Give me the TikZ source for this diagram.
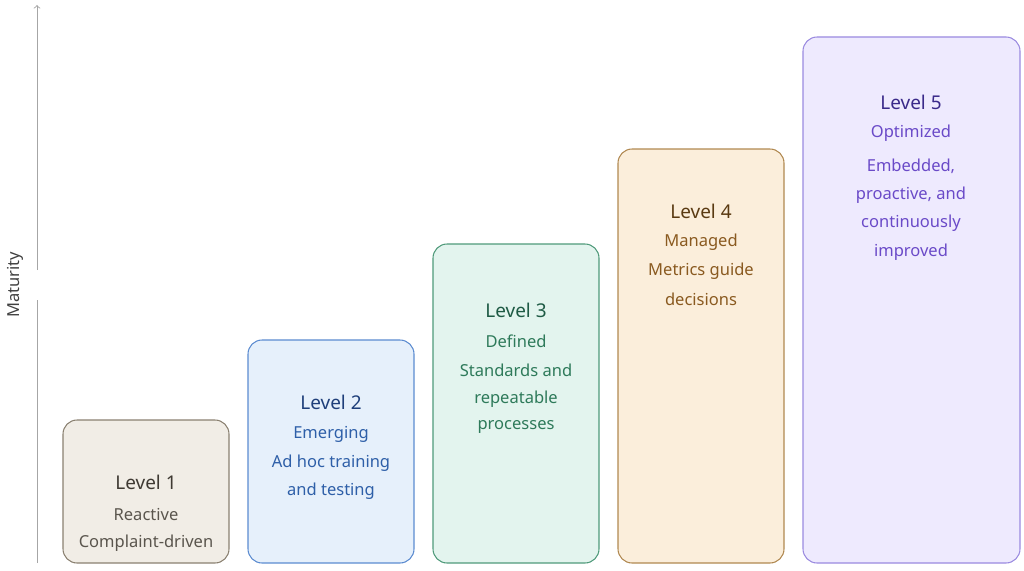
\documentclass[tikz,border=0pt]{standalone}
\usepackage{fontspec}
\setmainfont{Noto Sans}
\begin{document}
\begin{tikzpicture}[x=0.02cm,y=-0.02cm,
 box/.style={rounded corners=8pt,line width=0.6pt},
 ttl/.style={font=\fontsize{10.8pt}{12pt}\selectfont\bfseries,anchor=center},
 txt/.style={font=\fontsize{9.4pt}{11pt}\selectfont,anchor=center}]
\useasboundingbox (0,0) rectangle (1024,571);
\definecolor{fa}{HTML}{F1EDE6}\definecolor{ba}{HTML}{8A8070}\definecolor{ta}{HTML}{3F3A33}\definecolor{sa}{HTML}{5A554D}
\definecolor{fb}{HTML}{E6F0FB}\definecolor{bb}{HTML}{5B8BD0}\definecolor{tb}{HTML}{1F3F7A}\definecolor{sb}{HTML}{2E5FA8}
\definecolor{fc}{HTML}{E3F4EE}\definecolor{bc}{HTML}{4F9A7A}\definecolor{tc}{HTML}{1E5A44}\definecolor{sc}{HTML}{2E7A5A}
\definecolor{fd}{HTML}{FBEEDB}\definecolor{bd}{HTML}{B08850}\definecolor{td}{HTML}{5A3A12}\definecolor{sd}{HTML}{8A5A20}
\definecolor{fe}{HTML}{EEEAFE}\definecolor{be}{HTML}{9A8AE0}\definecolor{te}{HTML}{3A2A8A}\definecolor{se}{HTML}{6A4AC8}
\coordinate (a0) at (37,563); \coordinate (a1) at (37,270); \coordinate (a2) at (37,300); \coordinate (a3) at (37,5);
\draw[gray!70,line width=0.5pt] (a0) -- (a2);
\draw[gray!70,line width=0.5pt,->] (a1) -- (a3);
\node[txt,rotate=90,text=black!75] (mat) at (15,285) {Maturity};
\draw[box,fill=fa,draw=ba] (63,420) rectangle (229,563);
\draw[box,fill=fb,draw=bb] (248,340) rectangle (414,563);
\draw[box,fill=fc,draw=bc] (433,244) rectangle (599,563);
\draw[box,fill=fd,draw=bd] (618,149) rectangle (784,563);
\draw[box,fill=fe,draw=be] (803,37) rectangle (1020,563);
\node[ttl,text=ta] (t1) at (146,482) {Level 1};
\node[txt,text=sa] at (146,514) {Reactive};
\node[txt,text=sa] at (146,543) {Complaint-driven};
\node[ttl,text=tb] (t2) at (331,402) {Level 2};
\node[txt,text=sb] at (331,434) {Emerging};
\node[txt,text=sb] at (331,463) {Ad hoc training};
\node[txt,text=sb] at (331,491) {and testing};
\node[ttl,text=tc] (t3) at (516,310) {Level 3};
\node[txt,text=sc] at (516,341) {Defined};
\node[txt,text=sc] at (516,370) {Standards and};
\node[txt,text=sc] at (516,399) {repeatable};
\node[txt,text=sc] at (516,427) {processes};
\node[ttl,text=td] (t4) at (701,211) {Level 4};
\node[txt,text=sd] at (701,242) {Managed};
\node[txt,text=sd] at (701,271) {Metrics guide};
\node[txt,text=sd] at (701,299) {decisions};
\node[ttl,text=te] (t5) at (911,102) {Level 5};
\node[txt,text=se] at (911,133) {Optimized};
\node[txt,text=se] at (911,166) {Embedded,};
\node[txt,text=se] at (911,195) {proactive, and};
\node[txt,text=se] at (911,223) {continuously};
\node[txt,text=se] at (911,252) {improved};
\end{tikzpicture}
\end{document}
